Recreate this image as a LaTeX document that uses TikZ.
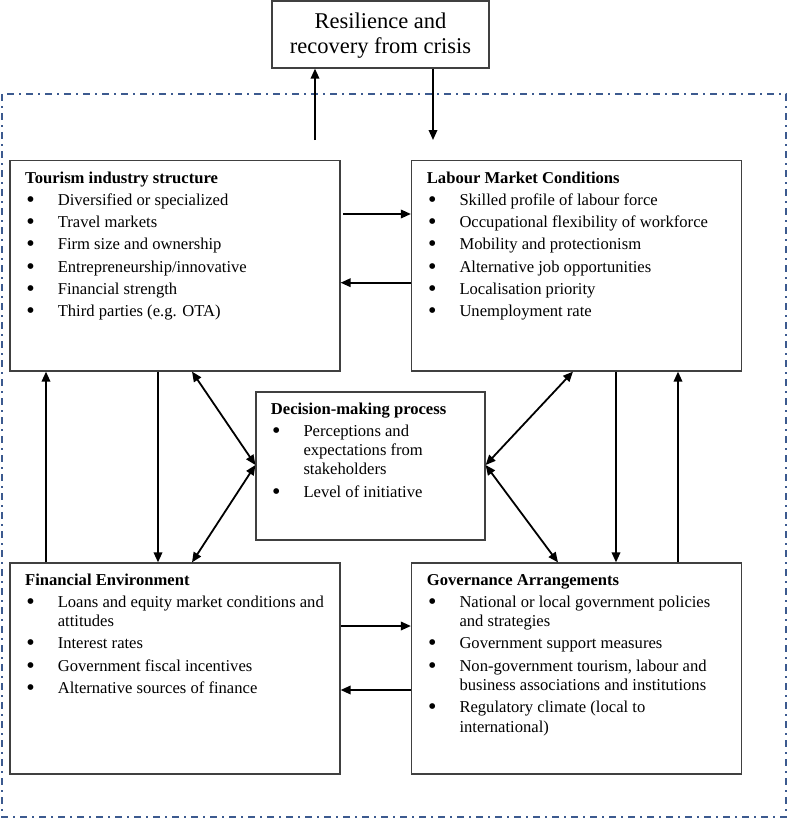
\documentclass[tikz,border=0pt]{standalone}
\usepackage{fontspec}
\setmainfont{Liberation Serif}
\usetikzlibrary{arrows.meta}
\definecolor{frameblue}{HTML}{3C5A8F}
\newcommand\bitem[1]{\par\hangindent=32.6bp\hangafter=1\noindent\makebox[32.6bp][l]{\hspace{1.3bp}\raisebox{-1.8bp}{\scalebox{1.45}{\textbullet}}}#1}
\newcommand\boxtext[1]{\vtop{\hsize=340bp\fontsize{16.6bp}{19.3bp}\selectfont\parindent=0pt\parskip=3bp\raggedright\noindent #1\par}}
\begin{document}
\begin{tikzpicture}[x=1bp,y=-1bp,
  box/.style n args={2}{draw=black!75,line width=1.2bp,inner sep=0pt,minimum width=#1,minimum height=#2},
  arr/.style={line width=1.8bp,-{Triangle[length=10bp,width=8.5bp]}},
  darr/.style={line width=1.8bp,{Triangle[length=10bp,width=8.5bp]}-{Triangle[length=10bp,width=8.5bp]}},
  txt/.style={anchor=base west,inner sep=0pt}]
\useasboundingbox (0,0) rectangle (789,820);
\draw[frameblue,line width=2bp,dash pattern=on 7bp off 5bp on 2bp off 5bp] (2,94) rectangle (786,817);

\node[box={217bp}{67bp}] (top) at (380.5,34.5) {};
\node[anchor=base,inner sep=0pt] (toptxt) at (380.5,28.5) {\vtop{\hsize=215bp\fontsize{22.5bp}{25bp}\selectfont\centering Resilience and\par recovery from crisis\par}};

\node[box={330bp}{210.5bp}] (tour) at (175,265.75) {};
\node[box={330bp}{210.5bp}] (lab) at (576.5,265.75) {};
\node[box={229bp}{148bp}] (dec) at (370.5,466) {};
\node[box={330bp}{211bp}] (fin) at (175,668.5) {};
\node[box={330bp}{211bp}] (gov) at (576.5,668.5) {};

\node[txt] (tourtxt) at (25,183) {\boxtext{\textbf{Tourism industry structure}
\bitem{Diversified or specialized}
\bitem{Travel markets}
\bitem{Firm size and ownership}
\bitem{Entrepreneurship/innovative}
\bitem{Financial strength}
\bitem{Third parties (e.g. OTA)}}};

\node[txt] (labtxt) at (426.7,183) {\boxtext{\textbf{Labour Market Conditions}
\bitem{Skilled profile of labour force}
\bitem{Occupational flexibility of workforce}
\bitem{Mobility and protectionism}
\bitem{Alternative job opportunities}
\bitem{Localisation priority}
\bitem{Unemployment rate}}};

\node[txt] (dectxt) at (270.7,414) {\boxtext{\textbf{Decision-making process}
\bitem{Perceptions and\newline expectations from\newline stakeholders}
\bitem{Level of initiative}}};

\node[txt] (fintxt) at (25,585) {\boxtext{\textbf{Financial Environment}
\bitem{Loans and equity market conditions and\newline attitudes}
\bitem{Interest rates}
\bitem{Government fiscal incentives}
\bitem{Alternative sources of finance}}};

\node[txt] (govtxt) at (426.7,585) {\boxtext{\textbf{Governance Arrangements}
\bitem{National or local government policies\newline and strategies}
\bitem{Government support measures}
\bitem{Non-government tourism, labour and\newline business associations and institutions}
\bitem{Regulatory climate (local to\newline international)}}};

% helper coordinates
\coordinate (u1) at (315,140);
\coordinate (d1) at (433,140);
\coordinate (ytl) at (343,214);
\coordinate (ylt) at (0,282.7);
\coordinate (yfg) at (341,626);
\coordinate (ygf) at (0,690);
\coordinate (x1) at (46,0);
\coordinate (x2) at (158,0);
\coordinate (x3) at (616,0);
\coordinate (x4) at (678,0);
\coordinate (xa) at (192,0);
\coordinate (xb) at (573,0);
\coordinate (xc) at (558,0);
\coordinate (ydl) at (0,465);

\draw[arr] (u1) -- (u1 |- top.south);
\draw[arr] (d1 |- top.south) -- (d1);
\draw[arr] (ytl) -- (ytl -| lab.west);
\draw[arr] (lab.west |- ylt) -- (tour.east |- ylt);
\draw[arr] (yfg) -- (yfg -| gov.west);
\draw[arr] (gov.west |- ygf) -- (fin.east |- ygf);
\draw[arr] (x1 |- fin.north) -- (x1 |- tour.south);
\draw[arr] (x2 |- tour.south) -- (x2 |- fin.north);
\draw[arr] (x3 |- lab.south) -- (x3 |- gov.north);
\draw[arr] (x4 |- gov.north) -- (x4 |- lab.south);
\draw[darr] (xa |- tour.south) -- (dec.west |- ydl);
\draw[darr] (dec.west |- ydl) -- (xa |- fin.north);
\draw[darr] (xb |- lab.south) -- (dec.east |- ydl);
\draw[darr] (dec.east |- ydl) -- (xc |- gov.north);
\end{tikzpicture}
\end{document}
